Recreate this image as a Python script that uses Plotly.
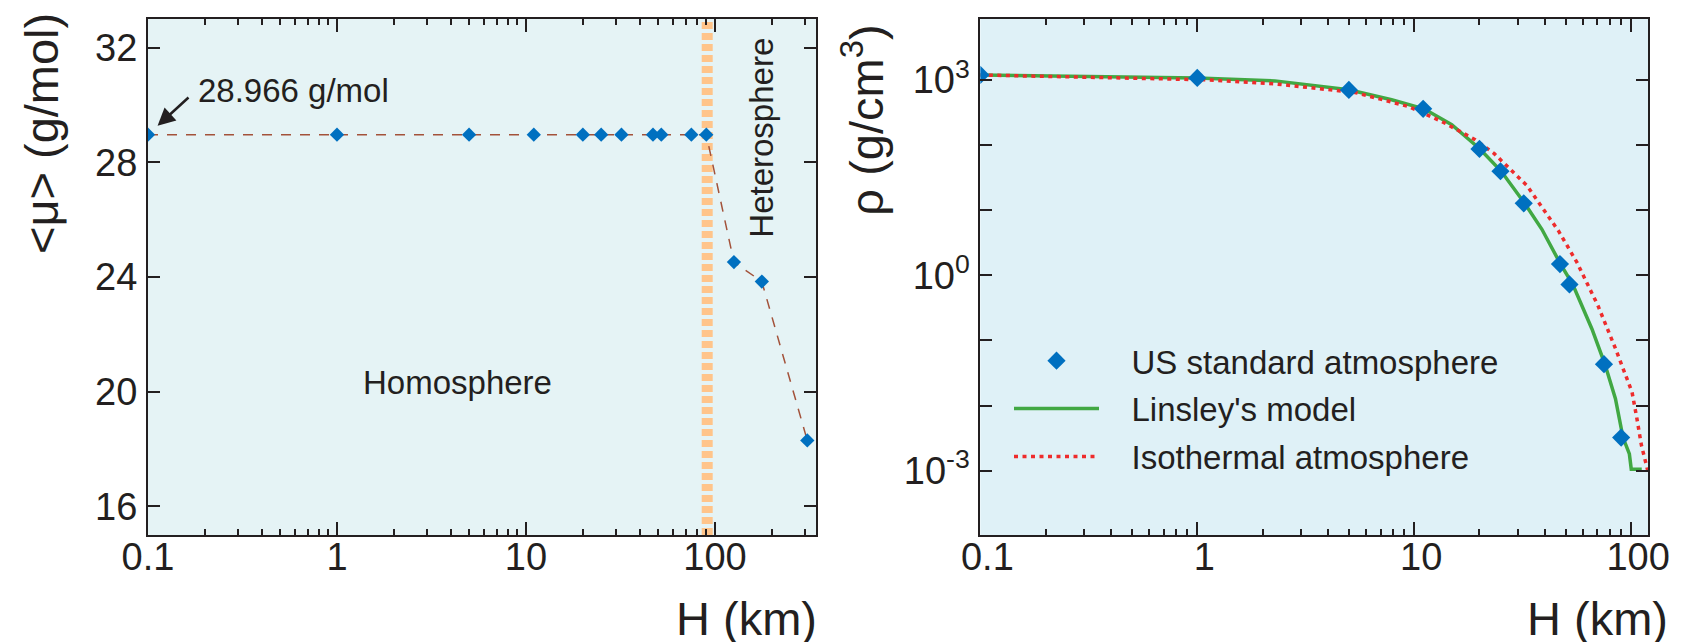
import numpy as np
import plotly.graph_objects as go

# ---------------- data ----------------
# Left panel: mean molecular mass vs altitude
H_MU = [0.1, 1, 5, 11, 20, 25, 32, 47, 52, 75, 90, 126, 177, 308]
MU = [28.966, 28.966, 28.966, 28.966, 28.966, 28.966, 28.966,
      28.966, 28.966, 28.966, 28.966, 24.52, 23.84, 18.30]
H_TURBOPAUSE = [91, 91]
MU_TURBOPAUSE = [15, 33]

# Right panel: density vs altitude
H_STD = [0.1, 1, 5, 11, 20, 25, 32, 47, 52, 75, 90]
RHO_STD = [1205, 1084, 709, 363, 87.7, 39.8, 12.8, 1.49, 0.726, 0.0432, 0.00321]

H_LINSLEY = [0.1, 0.3, 1, 2.28, 5, 7.87, 11.1, 14.9, 20.1, 25.2, 32.3, 38.8,
             47.3, 53.8, 66, 75.7, 84.7, 91.8, 98.2, 100.2, 112]
RHO_LINSLEY = [1205, 1148, 1084, 975, 710, 499, 363, 207, 87.7, 39.8, 12.8, 5.11,
               1.49, 0.726, 0.150, 0.0433, 0.0127, 0.00321, 0.00180, 0.00105, 0.00105]

H_ISO = [0.1, 1.12, 2.28, 5.34, 9.41, 13.4, 19.1, 23.4, 33.1, 46.3, 56.3, 61.5,
         70.4, 84.6, 101, 106.4, 111.6, 119.7]
RHO_ISO = [1202, 1012, 877, 646, 394, 232, 122, 74.3, 24.0, 4.81, 1.58, 0.875,
           0.341, 0.0760, 0.0161, 0.00628, 0.00245, 0.000959]

# ticks
MU_TICKS = [16, 20, 24, 28, 32]
RHO_TICKS = [1e-3, 1e-2, 1e-1, 1, 10, 100, 1000]
RHO_TICK_TEXT = ["10<sup>-3</sup>", "", "", "10<sup>0</sup>", "", "", "10<sup>3</sup>"]

# ---------------- style ----------------
FONT = "Liberation Sans, Arial, Helvetica, sans-serif"
INK = "#231F20"
BLUE = "#0070C0"
GREEN = "#41A843"
RED = "#EE2C2C"
BROWN = "#A3523A"
ORANGE = "#FFC48A"
BG_LEFT = "#E5F3F5"
BG_RIGHT = "#DFF1F7"
PAD = "\u00a0\u00a0\u00a0"

fig = go.Figure()

# left panel
fig.add_trace(go.Scatter(x=H_TURBOPAUSE, y=MU_TURBOPAUSE, mode="lines",
                         line=dict(color=ORANGE, width=11, dash="7px,4px"),
                         showlegend=False, xaxis="x", yaxis="y", hoverinfo="skip"))
fig.add_trace(go.Scatter(x=H_MU, y=MU, mode="lines+markers",
                         line=dict(color=BROWN, width=1.5, dash="10px,9px"),
                         marker=dict(symbol="diamond", size=11, color=BLUE),
                         showlegend=False, xaxis="x", yaxis="y"))

# right panel
fig.add_trace(go.Scatter(x=H_LINSLEY, y=RHO_LINSLEY, mode="lines",
                         name=PAD + "Linsley's model", legendrank=2, legendgroup="b",
                         line=dict(color=GREEN, width=3.5), xaxis="x2", yaxis="y2"))
fig.add_trace(go.Scatter(x=H_ISO, y=RHO_ISO, mode="lines",
                         name=PAD + "Isothermal atmosphere", legendrank=3, legendgroup="c",
                         line=dict(color=RED, width=3.5, dash="4px,4.5px"),
                         xaxis="x2", yaxis="y2"))
fig.add_trace(go.Scatter(x=H_STD, y=RHO_STD, mode="markers",
                         name=PAD + "US standard atmosphere", legendrank=1, legendgroup="a",
                         marker=dict(symbol="diamond", size=14, color=BLUE),
                         xaxis="x2", yaxis="y2"))

common_axis = dict(showline=True, linecolor=INK, linewidth=2, mirror="ticks",
                   ticks="inside", tickcolor=INK, tickwidth=2,
                   showgrid=False, zeroline=False,
                   tickfont=dict(family=FONT, size=38, color=INK))

log_x = dict(type="log", dtick=1, ticklen=13, ticklabelstandoff=-13,
             minor=dict(dtick="D1", ticks="inside", ticklen=6, tickwidth=1.5,
                        tickcolor=INK, showgrid=False))

fig.update_layout(
    width=1683, height=642,
    margin=dict(l=140, r=43, t=9, b=115),
    paper_bgcolor="white", plot_bgcolor="rgba(0,0,0,0)",
    font=dict(family=FONT, color=INK),
    xaxis=dict(range=[-1, 2.536], domain=[0, 0.4455], anchor="y",
               **log_x, **common_axis),
    yaxis=dict(range=[15, 33], anchor="x", tickmode="array", tickvals=MU_TICKS,
               ticklen=12, ticklabelstandoff=1, **common_axis),
    xaxis2=dict(range=[-1, 2.078], domain=[0.5549, 1], anchor="y2",
                ticklabelshift=7, **log_x, **common_axis),
    yaxis2=dict(type="log", range=[-3.99, 3.94], anchor="x2", tickmode="array",
                tickvals=RHO_TICKS, ticktext=RHO_TICK_TEXT, ticklen=12,
                ticklabelstandoff=1, **common_axis),
    legend=dict(x=0.574, y=0.392, xanchor="left", yanchor="top",
                bgcolor="rgba(0,0,0,0)", itemwidth=85, tracegroupgap=2,
                font=dict(family=FONT, size=33, color=INK)),
    showlegend=True,
)

# panel backgrounds
fig.add_shape(type="rect", xref="x domain", yref="y domain", x0=0, x1=1, y0=0, y1=1,
              fillcolor=BG_LEFT, line=dict(width=0), layer="below")
fig.add_shape(type="rect", xref="x2 domain", yref="y2 domain", x0=0, x1=1, y0=0, y1=1,
              fillcolor=BG_RIGHT, line=dict(width=0), layer="below")

ann_font = dict(family=FONT, size=33, color=INK)
title_font = dict(family=FONT, size=47, color=INK)

fig.add_annotation(xref="x", yref="y", x=np.log10(H_MU[0]), y=MU[0],
                   ax=42, ay=-38.5, text="", showarrow=True,
                   arrowhead=2, arrowsize=1.4, arrowwidth=2.5,
                   arrowcolor=INK, standoff=13)
fig.add_annotation(xref="x", yref="y", x=-0.745, y=30.5, text="28.966 g/mol",
                   showarrow=False, xanchor="left", yanchor="middle", font=ann_font)
fig.add_annotation(xref="x", yref="y", x=0.640, y=20.31, text="Homosphere",
                   showarrow=False, xanchor="center", yanchor="middle", font=ann_font)
fig.add_annotation(xref="x", yref="y", x=2.249, y=28.86, text="Heterosphere",
                   textangle=-90, showarrow=False, xanchor="center", yanchor="middle",
                   font=ann_font)

# axis titles
fig.add_annotation(xref="paper", yref="paper", x=0.4471, y=-0.162, text="H (km)",
                   showarrow=False, xanchor="right", yanchor="middle", font=title_font)
fig.add_annotation(xref="paper", yref="paper", x=1.0145, y=-0.162, text="H (km)",
                   showarrow=False, xanchor="right", yanchor="middle", font=title_font)
fig.add_annotation(xref="paper", yref="paper", x=-0.071, y=0.778,
                   text="&lt;\u03bc&gt; (g/mol)", textangle=-90,
                   showarrow=False, xanchor="center", yanchor="middle", font=title_font)
fig.add_annotation(xref="paper", yref="paper", x=0.477, y=0.804,
                   text="\u03c1 (g/cm<sup>3</sup>)", textangle=-90,
                   showarrow=False, xanchor="center", yanchor="middle", font=title_font)

fig.write_html("out.html")
